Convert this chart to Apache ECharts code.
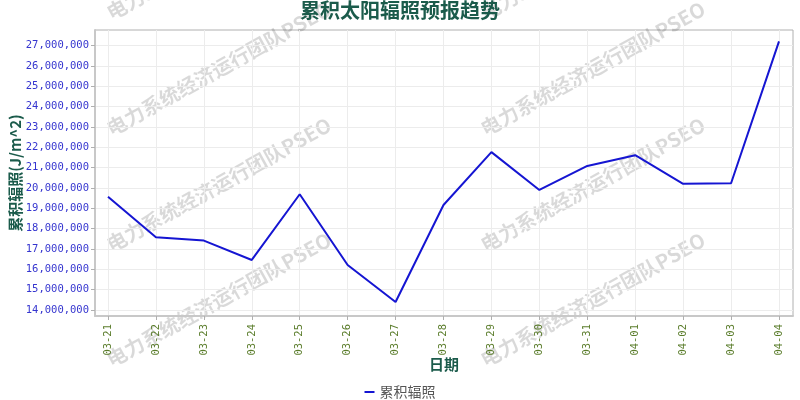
<!DOCTYPE html>
<html>
<head>
<meta charset="utf-8">
<script src="https://cdn.jsdelivr.net/npm/echarts@6/dist/echarts.min.js"></script>
<style>html,body{margin:0;padding:0;background:#fff}#c{width:800px;height:400px}</style>
</head>
<body>
<div id="c"></div>
<script>
const categories = ['03-21','03-22','03-23','03-24','03-25','03-26','03-27','03-28','03-29','03-30','03-31','04-01','04-02','04-03','04-04'];
const irradiance = [19570000,17580000,17410000,16460000,19690000,16210000,14390000,19160000,21760000,19900000,21080000,21610000,20200000,20230000,27200000];
const yMin = 14000000;
const yMax = 27000000;
const yStep = 1000000;
const titleText = '累积太阳辐照预报趋势';
const yName = '累积辐照(J/m^2)';
const xName = '日期';
const seriesName = '累积辐照';
const watermarkText = '电力系统经济运行团队PSEO';

function fmt(v){ return String(Math.round(v)).replace(/\B(?=(\d{3})+(?!\d))/g, ','); }

const chart = echarts.init(document.getElementById('c'), null, {renderer:'canvas'});
const wmX = [108, 482];
const wmY = [14, 130, 246, 361];
const graphics = [];
wmX.forEach(x => wmY.forEach(y => graphics.push({
  type:'text', x:x, y:y, rotation: 29*Math.PI/180, z:0, silent:true,
  style:{text:watermarkText, fill:'rgba(0,0,0,0.15)', font:'bold 20px "Noto Sans CJK SC"', textAlign:'left', textVerticalAlign:'middle'}
})));

const grey = '#b0b0b0';
const monoFont = 'DejaVu Sans Mono';
chart.setOption({
  animation:false,
  backgroundColor:'#fff',
  title:{text:titleText, left:'center', top:0, padding:0,
    textStyle:{fontFamily:'Noto Sans CJK SC', fontSize:20, fontWeight:'bold', color:'#1b5b4b'}},
  legend:{data:[seriesName], left:'center', top:380, icon:'rect', itemWidth:10, itemHeight:2, itemGap:4,
    textStyle:{fontFamily:'Noto Sans CJK SC', fontSize:14, color:'#555'}},
  graphic: graphics,
  grid:[
    {left:95, right:7, top:30, bottom:84, show:true, borderColor:grey, borderWidth:1, backgroundColor:'transparent'},
    {left:95, right:7, top:45.5, bottom:90},
    {left:108, right:21, top:30, bottom:84},
    {left:108, right:21, top:45.5, bottom:90}
  ],
  xAxis:[
    {gridIndex:0, type:'value', min:0, max:1, name:xName, nameLocation:'middle', nameGap:41,
      nameTextStyle:{fontFamily:'Noto Sans CJK SC', fontSize:15, fontWeight:'bold', color:'#1b5b4b'},
      axisLine:{show:true, onZero:false, lineStyle:{color:'#c8c8c8', width:2}}, axisTick:{show:false}, axisLabel:{show:false}, splitLine:{show:false}},
    {gridIndex:1, type:'value', show:false},
    {gridIndex:2, type:'category', data:categories, boundaryGap:false,
      axisLine:{show:false}, axisTick:{show:true, length:4, lineStyle:{color:grey}},
      axisLabel:{rotate:90, margin:8, fontFamily:monoFont, fontSize:10.5, color:'#5b7d2c', interval:0},
      splitLine:{show:true, lineStyle:{color:'#ececec', width:1}}},
    {gridIndex:3, type:'category', data:categories, boundaryGap:false, show:false}
  ],
  yAxis:[
    {gridIndex:0, type:'value', min:0, max:1, name:yName, nameLocation:'middle', nameGap:72,
      nameTextStyle:{fontFamily:'Noto Sans CJK SC', fontSize:15, fontWeight:'bold', color:'#1b5b4b'},
      axisLine:{show:true, onZero:false, lineStyle:{color:'#c8c8c8', width:2}}, axisTick:{show:false}, axisLabel:{show:false}, splitLine:{show:false}},
    {gridIndex:1, type:'value', min:yMin, max:yMax, interval:yStep,
      axisLine:{show:false}, axisTick:{show:true, length:4, lineStyle:{color:grey}},
      axisLabel:{margin:6, formatter:fmt, fontFamily:monoFont, fontSize:10.5, color:'#3535cf'},
      splitLine:{show:true, lineStyle:{color:'#ececec', width:1}}},
    {gridIndex:2, type:'value', show:false},
    {gridIndex:3, type:'value', min:yMin, max:yMax, show:false}
  ],
  series:[{
    name:seriesName, type:'line', xAxisIndex:3, yAxisIndex:3, data:irradiance, clip:false,
    showSymbol:false, symbol:'none', lineStyle:{color:'#1515d2', width:2}, itemStyle:{color:'#1515d2'}, z:5
  }]
});
</script>
</body>
</html>
